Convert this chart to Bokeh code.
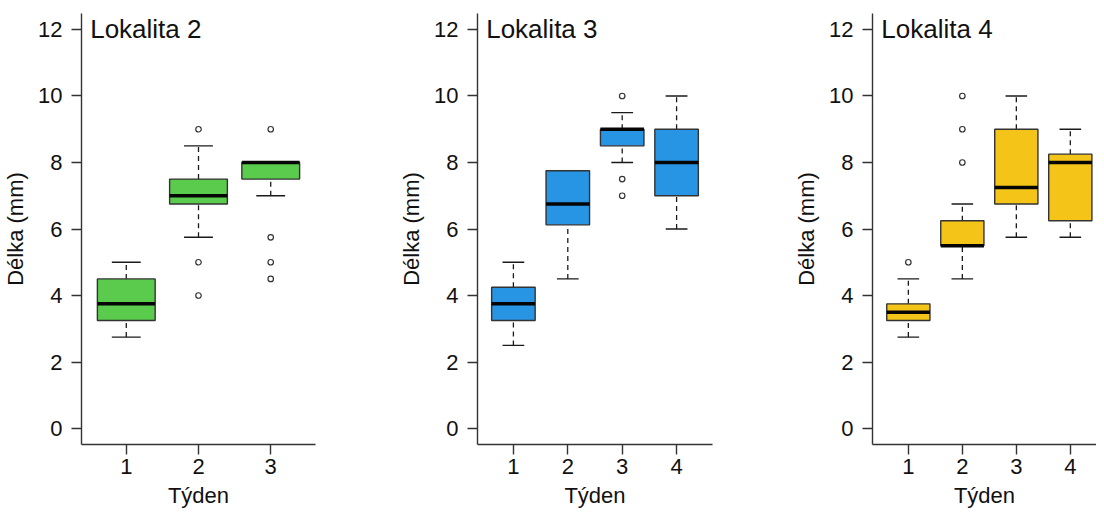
from bokeh.plotting import figure
from bokeh.layouts import row
from bokeh.models import FixedTicker, Label, ColumnDataSource, Range1d
from bokeh.embed import file_html
from bokeh.resources import INLINE

# ---------------- data ----------------
titles = ["Lokalita 2", "Lokalita 3", "Lokalita 4"]
x_label = "Týden"
y_label = "Délka (mm)"
y_ticks = [0, 2, 4, 6, 8, 10, 12]

# Lokalita 2
weeks_a = [1, 2, 3]
lo_a = [2.75, 5.75, 7.0]
q1_a = [3.25, 6.75, 7.5]
med_a = [3.75, 7.0, 8.0]
q3_a = [4.5, 7.5, 8.0]
hi_a = [5.0, 8.5, 8.0]
out_x_a = [2, 2, 2, 3, 3, 3, 3]
out_y_a = [9.0, 5.0, 4.0, 9.0, 5.75, 5.0, 4.5]

# Lokalita 3
weeks_b = [1, 2, 3, 4]
lo_b = [2.5, 4.5, 8.0, 6.0]
q1_b = [3.25, 6.125, 8.5, 7.0]
med_b = [3.75, 6.75, 9.0, 8.0]
q3_b = [4.25, 7.75, 9.0, 9.0]
hi_b = [5.0, 7.75, 9.5, 10.0]
out_x_b = [3, 3, 3]
out_y_b = [10.0, 7.5, 7.0]

# Lokalita 4
weeks_c = [1, 2, 3, 4]
lo_c = [2.75, 4.5, 5.75, 5.75]
q1_c = [3.25, 5.5, 6.75, 6.25]
med_c = [3.5, 5.5, 7.25, 8.0]
q3_c = [3.75, 6.25, 9.0, 8.25]
hi_c = [4.5, 6.75, 10.0, 9.0]
out_x_c = [1, 2, 2, 2]
out_y_c = [5.0, 10.0, 9.0, 8.0]

colors = ["#5BCB4D", "#2894E4", "#F4C419"]

FONT = "Liberation Sans"
HALF = 0.4      # half box width
CAP = 0.2       # half staple width


def panel(title, weeks, lo, q1, med, q3, hi, ox, oy, color,
          width, xr, border_right):
    p = figure(width=width, height=511, output_backend="svg",
               toolbar_location=None, x_range=Range1d(*xr),
               y_range=Range1d(-0.48, 12.48),
               min_border_left=74, min_border_right=border_right,
               min_border_top=13, min_border_bottom=67)
    p.title.text = ""
    p.grid.visible = False
    p.outline_line_color = None
    p.background_fill_color = "white"
    p.border_fill_color = "white"

    src = ColumnDataSource(dict(
        x=weeks, lo=lo, q1=q1, med=med, q3=q3, hi=hi,
        xl=[w - HALF for w in weeks], xr=[w + HALF for w in weeks],
        cl=[w - CAP for w in weeks], cr=[w + CAP for w in weeks]))

    # whiskers (dashed)
    p.segment(x0="x", y0="q3", x1="x", y1="hi", source=src,
              line_color="#1a1a1a", line_width=1.3, line_dash="5 4")
    p.segment(x0="x", y0="lo", x1="x", y1="q1", source=src,
              line_color="#1a1a1a", line_width=1.3, line_dash="5 4")
    # staples
    p.segment(x0="cl", y0="hi", x1="cr", y1="hi", source=src,
              line_color="#1a1a1a", line_width=1.4)
    p.segment(x0="cl", y0="lo", x1="cr", y1="lo", source=src,
              line_color="#1a1a1a", line_width=1.4)
    # boxes
    p.vbar(x="x", width=2 * HALF, bottom="q1", top="q3", source=src,
           fill_color=color, line_color="#333333", line_width=1.4)
    # medians
    p.segment(x0="xl", y0="med", x1="xr", y1="med", source=src,
              line_color="#050505", line_width=3.5)
    # outliers
    p.scatter(x=ox, y=oy, marker="circle", size=5.5, fill_color="white",
              line_color="#333333", line_width=1.2)

    p.add_layout(Label(x=0.5, y=12, text=title, text_align="left",
                       text_baseline="middle", text_font=FONT,
                       text_font_size="26px", text_color="#111111"))

    for ax in (p.xaxis[0], p.yaxis[0]):
        ax.axis_line_color = "#333333"
        ax.axis_line_width = 1.4
        ax.major_tick_line_color = "#333333"
        ax.major_tick_line_width = 1.4
        ax.major_tick_out = 10
        ax.major_tick_in = 0
        ax.minor_tick_line_color = None
        ax.major_label_text_font = FONT
        ax.major_label_text_font_size = "22px"
        ax.major_label_text_color = "#111111"
        ax.axis_label_text_font = FONT
        ax.axis_label_text_font_size = "22px"
        ax.axis_label_text_font_style = "normal"
        ax.axis_label_text_color = "#111111"

    p.xaxis.ticker = FixedTicker(ticks=weeks)
    p.yaxis.ticker = FixedTicker(ticks=y_ticks)
    p.xaxis.axis_label = x_label
    p.yaxis.axis_label = y_label
    p.xaxis.major_label_standoff = 4
    p.xaxis.axis_label_standoff = 6
    p.yaxis.major_label_standoff = 9
    p.yaxis.axis_label_standoff = 7
    return p


p1 = panel(titles[0], weeks_a, lo_a, q1_a, med_a, q3_a, hi_a, out_x_a, out_y_a,
           colors[0], 396, (0.38, 3.62), 81)
p2 = panel(titles[1], weeks_b, lo_b, q1_b, med_b, q3_b, hi_b, out_x_b, out_y_b,
           colors[1], 395, (0.34, 4.66), 79)
p3 = panel(titles[2], weeks_c, lo_c, q1_c, med_c, q3_c, hi_c, out_x_c, out_y_c,
           colors[2], 305, (0.336, 4.485), 0)

layout = row(p1, p2, p3)
open("out.html", "w").write(file_html(layout, INLINE))
